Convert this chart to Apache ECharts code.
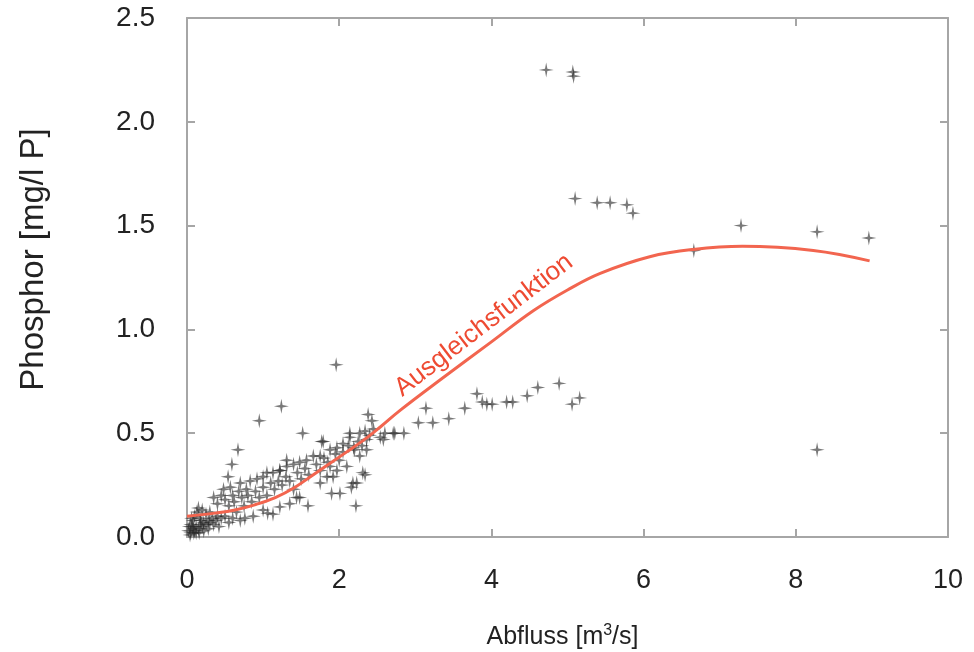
<!DOCTYPE html>
<html>
<head>
<meta charset="utf-8">
<script src="https://cdn.jsdelivr.net/npm/echarts@6/dist/echarts.min.js"></script>
<style>
html, body { margin: 0; padding: 0; background: #fff; }
#phosphor_chart { width: 974px; height: 652px; }
</style>
</head>
<body>
<div id="phosphor_chart"></div>
<script>
// Messwerte Abfluss [m3/s] / Phosphor [mg/l P]
var messwerte = [
	// Ausreisser oben
	[4.72, 2.25], [5.07, 2.24], [5.08, 2.22],
	[5.10, 1.63], [5.39, 1.61], [5.56, 1.61], [5.78, 1.60], [5.86, 1.56],
	[6.66, 1.38], [7.28, 1.50], [8.28, 1.47], [8.96, 1.44], [8.28, 0.42],
	[1.96, 0.83], [1.24, 0.63], [0.95, 0.56], [1.52, 0.50], [0.67, 0.42], [0.59, 0.35], [0.54, 0.29],
	// mittlere Reihe
	[2.60, 0.50], [2.73, 0.50], [2.85, 0.50], [3.04, 0.55], [3.14, 0.62], [3.23, 0.55], [3.44, 0.57],
	[3.65, 0.62], [3.81, 0.69], [3.88, 0.65], [3.94, 0.64], [4.01, 0.64], [4.20, 0.65], [4.28, 0.65],
	[4.47, 0.68], [4.61, 0.72], [4.89, 0.74], [5.06, 0.64], [5.16, 0.67],
	// Nullpunkt
	[0.02, 0.03], [0.05, 0.02], [0.08, 0.04], [0.10, 0.03], [0.12, 0.05], [0.15, 0.04], [0.18, 0.06],
	[0.20, 0.05], [0.22, 0.07], [0.25, 0.06], [0.28, 0.08], [0.30, 0.07], [0.33, 0.09], [0.35, 0.06],
	[0.38, 0.08], [0.40, 0.10], [0.45, 0.09], [0.50, 0.10], [0.05, 0.06], [0.08, 0.08], [0.10, 0.10],
	[0.13, 0.12], [0.17, 0.09], [0.12, 0.02], [0.03, 0.05], [0.06, 0.09], [0.20, 0.13], [0.25, 0.11],
	[0.15, 0.14], [0.30, 0.12], [0.55, 0.07], [0.60, 0.09], [0.42, 0.05], [0.70, 0.08], [0.65, 0.12],
	[0.04, 0.01], [0.09, 0.02], [0.16, 0.02], [0.22, 0.03], [0.28, 0.04], [0.07, 0.05], [0.18, 0.08],
	// oberes Band
	[0.35, 0.19], [0.48, 0.23], [0.57, 0.24], [0.70, 0.26], [0.78, 0.23], [0.83, 0.27], [0.92, 0.28],
	[1.00, 0.29], [1.05, 0.31], [1.13, 0.31], [1.22, 0.32], [1.31, 0.34], [1.40, 0.35], [1.48, 0.36],
	[1.57, 0.37], [1.66, 0.39], [1.75, 0.39], [1.79, 0.46], [1.88, 0.42], [1.97, 0.43], [2.05, 0.45],
	[2.14, 0.48], [2.19, 0.43], [2.27, 0.50], [2.34, 0.51], [2.38, 0.59], [2.43, 0.56], [2.36, 0.47],
	[2.58, 0.47], [2.71, 0.50], [2.54, 0.48], [2.14, 0.50], [1.77, 0.46], [1.31, 0.37], [1.22, 0.32],
	// Band am Kurvenverlauf
	[0.40, 0.16], [0.45, 0.20], [0.50, 0.18], [0.55, 0.15], [0.60, 0.20], [0.62, 0.17], [0.68, 0.22],
	[0.72, 0.19], [0.75, 0.15], [0.80, 0.20], [0.85, 0.17], [0.90, 0.22], [0.95, 0.19], [1.00, 0.24],
	[1.05, 0.20], [1.10, 0.26], [1.15, 0.23], [1.20, 0.27], [1.25, 0.25], [1.30, 0.29], [1.35, 0.27],
	[1.45, 0.31], [1.50, 0.28], [1.55, 0.33], [1.60, 0.30], [1.70, 0.35], [1.75, 0.32], [1.80, 0.38],
	[1.85, 0.36], [1.95, 0.40], [2.00, 0.37], [2.05, 0.41], [2.12, 0.44], [2.20, 0.42], [2.25, 0.46],
	[2.30, 0.44], [2.40, 0.49], [2.45, 0.52],
	// unteres Band
	[1.40, 0.23], [1.48, 0.19], [1.59, 0.15], [1.35, 0.16], [1.13, 0.11], [1.22, 0.145], [1.00, 0.13],
	[0.76, 0.09], [0.87, 0.10], [1.90, 0.21], [2.01, 0.21], [2.23, 0.26], [2.16, 0.24], [2.34, 0.30],
	[2.22, 0.15], [1.84, 0.29], [1.97, 0.32], [2.10, 0.34], [2.27, 0.39], [2.36, 0.42], [1.75, 0.26],
	[1.88, 0.34], [1.92, 0.29], [2.31, 0.31], [2.18, 0.26], [1.44, 0.19], [1.06, 0.115]
];

// Ausgleichsfunktion
var ausgleich = [
	[0.00, 0.10], [0.37, 0.115], [0.63, 0.13], [0.89, 0.155], [1.16, 0.19], [1.42, 0.24],
	[1.66, 0.30], [2.10, 0.41], [2.37, 0.48], [2.54, 0.53], [2.80, 0.61], [3.32, 0.755],
	[4.00, 0.94], [4.55, 1.09], [5.00, 1.19], [5.43, 1.27], [6.08, 1.35], [6.65, 1.385],
	[7.30, 1.40], [8.23, 1.38], [8.97, 1.33]
];

var x_ticks = [0, 2, 4, 6, 8, 10];
var y_ticks = [0.0, 0.5, 1.0, 1.5, 2.0, 2.5];

var label_pos = [3.90, 1.02];

var phosphor_chart = echarts.init(document.getElementById('phosphor_chart'));

var frame_color = '#a6a6a6';
var font = 'Liberation Sans, Arial, sans-serif';

var star = 'path://M5,0 L5.8,4.2 L10,5 L5.8,5.8 L5,10 L4.2,5.8 L0,5 L4.2,4.2 Z';

function frame_axis(extra) {
	var axis = {
		type: 'value',
		axisLine: { show: true, onZero: false, lineStyle: { color: frame_color, width: 2 } },
		axisTick: { show: true, inside: true, length: 8, lineStyle: { color: frame_color, width: 2 } },
		axisLabel: { show: false },
		splitLine: { show: false }
	};
	for (var k in extra) axis[k] = extra[k];
	return axis;
}

var phosphor_option = {
	animation: false,
	grid: {
		left: 187,
		right: 26,
		top: 18,
		bottom: 115,
		outerBoundsMode: 'none'
	},
	xAxis: [
		frame_axis({
			min: x_ticks[0],
			max: x_ticks[x_ticks.length - 1],
			interval: 2,
			name: '{t|Abfluss [m}{s|3}{t|/s]}',
			nameLocation: 'middle',
			nameGap: 86,
			nameTextStyle: {
				padding: [0, 10, 0, 0],
				rich: {
					t: { fontSize: 25, fontFamily: font, color: '#222' },
					s: { fontSize: 16, fontFamily: font, color: '#222', verticalAlign: 'top', padding: [0, 0, 12, 0] }
				}
			},
			axisLabel: { show: true, fontSize: 27, fontFamily: font, color: '#222', margin: 30 }
		}),
		frame_axis({
			position: 'top',
			min: x_ticks[0],
			max: x_ticks[x_ticks.length - 1],
			interval: 2
		})
	],
	yAxis: [
		frame_axis({
			min: y_ticks[0],
			max: y_ticks[y_ticks.length - 1],
			interval: 0.5,
			name: 'Phosphor [mg/l P]',
			nameLocation: 'middle',
			nameGap: 137,
			nameTextStyle: { fontSize: 33, fontFamily: font, color: '#222', padding: [0, 0, 0, 36] },
			axisLabel: {
				show: true, fontSize: 28, fontFamily: font, color: '#222', margin: 32,
				padding: [8, 0, 0, 0],
				formatter: function (value) {
					return value.toFixed(1);
				}
			}
		}),
		frame_axis({
			position: 'right',
			min: y_ticks[0],
			max: y_ticks[y_ticks.length - 1],
			interval: 0.5
		})
	],
	series: [
		{
			name: 'Messwerte',
			type: 'scatter',
			symbol: star,
			symbolSize: 15,
			itemStyle: { color: 'rgba(40,40,40,0.78)' },
			data: messwerte
		},
		{
			name: 'Ausgleichsfunktion',
			type: 'line',
			smooth: 0.4,
			showSymbol: false,
			lineStyle: { color: '#f2654f', width: 3 },
			data: ausgleich
		}
	]
};

phosphor_chart.setOption(phosphor_option);

// Beschriftung der Kurve
var label_px = phosphor_chart.convertToPixel({ gridIndex: 0 }, label_pos);
phosphor_chart.setOption({
	graphic: [
		{
			type: 'text',
			x: label_px[0],
			y: label_px[1],
			rotation: 37.5 * Math.PI / 180,
			style: {
				text: 'Ausgleichsfunktion',
				fill: '#ee4a32',
				fontSize: 26,
				fontFamily: font,
				align: 'center',
				verticalAlign: 'middle'
			}
		}
	]
});
</script>
</body>
</html>
